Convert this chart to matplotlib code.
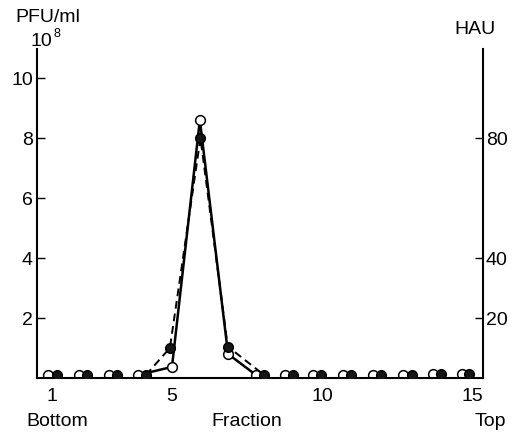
import matplotlib
matplotlib.use("Agg")
import matplotlib.pyplot as plt

plt.rcParams['font.family'] = ['Liberation Sans', 'DejaVu Sans']

# Fraction positions (points are slightly offset)
x_open = [0.87, 1.9, 2.9, 3.87, 5.0, 5.93, 6.87, 7.8, 8.77, 9.7, 10.7, 11.7, 12.7, 13.7, 14.67]
x_filled = [1.17, 2.17, 3.17, 4.13, 4.93, 5.95, 6.86, 8.07, 9.03, 9.97, 10.97, 11.97, 13.0, 13.97, 14.9]
# HAU (open circles, right axis)
hau = [1.0, 1.0, 1.0, 1.0, 3.7, 86, 8.0, 1.0, 1.0, 1.0, 1.0, 1.0, 1.0, 1.4, 1.4]
# PFU/ml x 10^8 (filled circles, left axis)
pfu = [0.1, 0.1, 0.1, 0.1, 1.0, 8.0, 1.05, 0.1, 0.1, 0.1, 0.1, 0.1, 0.1, 0.14, 0.14]
# indices connected by lines (fractions 4-8)
conn = slice(3, 8)

left_ticks = [2, 4, 6, 8, 10]
right_ticks = [20, 40, 80]
x_labels = [1, 5, 10, 15]

W, H = 520, 433
fig = plt.figure(figsize=(W / 100, H / 100), dpi=100)
ax = fig.add_axes([37 / W, 1 - 378 / H, (483 - 37) / W, (378 - 49) / H])
ax2 = ax.twinx()

ax.set_xlim(0.5, 15.37)
ax.set_ylim(0, 10.97)
ax2.set_ylim(0, 109.7)

for a in (ax, ax2):
    a.spines['top'].set_visible(False)
    for s in ('left', 'right', 'bottom'):
        a.spines[s].set_linewidth(1.5)
    a.patch.set_visible(False)

ax.spines['right'].set_visible(False)
ax2.spines['left'].set_visible(False)
ax2.spines['bottom'].set_visible(False)

# lines
ax2.plot(x_open[conn], hau[conn], color='black', lw=1.8, zorder=2)
ax.plot(x_filled[conn], pfu[conn], color='black', lw=1.4, ls=(0, (4, 2.5)), zorder=2)

# markers: open first (on twin axis), filled on top
ax2.plot(x_open, hau, ls='none', marker='o', ms=7.0, mfc='white', mec='black', mew=1.1, zorder=3)
ax.set_zorder(ax2.get_zorder() + 1)
ax.plot(x_filled, pfu, ls='none', marker='o', ms=7.0, mfc='#151515', mec='black', mew=1.0, zorder=4)

# left ticks
ax.set_yticks(left_ticks)
ax.set_yticklabels([str(v) for v in left_ticks])
ax.tick_params(axis='y', direction='in', length=6, width=1.0, pad=3, labelsize=14)
# right ticks
ax2.set_yticks(right_ticks)
ax2.set_yticklabels([str(v) for v in right_ticks])
ax2.tick_params(axis='y', direction='in', length=6, width=1.0, pad=2, labelsize=14)
# x ticks: labels at 1,5,10,15; only a tick mark at 5
ax.set_xticks(x_labels)
ax.set_xticklabels([str(v) for v in x_labels])
ax.tick_params(axis='x', length=0, pad=7, labelsize=14)
ax.set_xticks([5], minor=True)
ax.tick_params(axis='x', which='minor', direction='in', length=6, width=1.0)

# texts
fig.text(15 / W, 1 - 17 / H, 'PFU/ml', fontsize=14, ha='left', va='center')
fig.text(31 / W, 1 - 42 / H, '10', fontsize=14, ha='left', va='center')
fig.text(54 / W, 1 - 34 / H, '8', fontsize=9, ha='left', va='center')
fig.text(475 / W, 1 - 29 / H, 'HAU', fontsize=14, ha='center', va='center')
fig.text(57 / W, 1 - 421 / H, 'Bottom', fontsize=14, ha='center', va='center')
fig.text(247 / W, 1 - 421 / H, 'Fraction', fontsize=14, ha='center', va='center')
fig.text(490 / W, 1 - 421 / H, 'Top', fontsize=14, ha='center', va='center')

fig.savefig('out.png', dpi=100)
